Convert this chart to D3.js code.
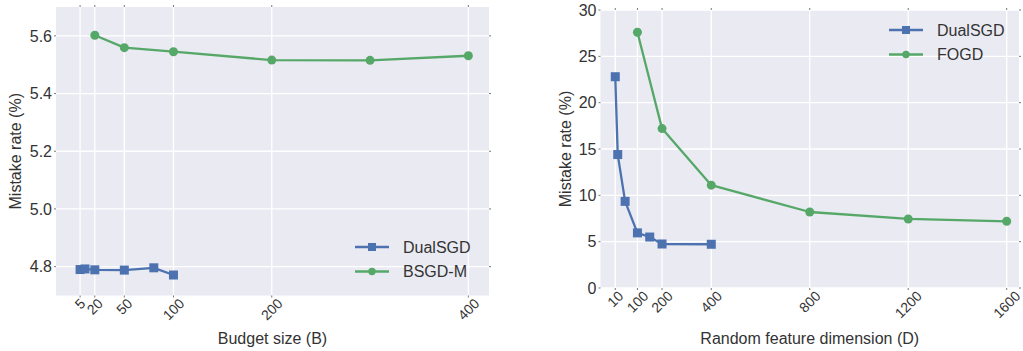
<!DOCTYPE html>
<html><head><meta charset="utf-8">
<script src="https://cdn.jsdelivr.net/npm/d3@7"></script>
<style>body{margin:0;background:#fff}svg{display:block}text{font-family:"Liberation Sans",Arial,sans-serif;fill:#333}</style>
</head><body><svg id="c" width="1023" height="351"></svg>
<script>
// Left panel data
const leftXTicks = [5, 20, 50, 100, 200, 400];
const leftYTicks = [4.8, 5.0, 5.2, 5.4, 5.6];
const leftDualX = [5, 10, 20, 50, 80, 100];
const leftDualY = [4.790, 4.792, 4.789, 4.788, 4.796, 4.771];
const leftBsgdX = [20, 50, 100, 200, 300, 400];
const leftBsgdY = [5.602, 5.559, 5.545, 5.516, 5.515, 5.531];
// Right panel data
const rightXTicks = [10, 100, 200, 400, 800, 1200, 1600];
const rightYTicks = [0, 5, 10, 15, 20, 25, 30];
const rightDualX = [10, 20, 50, 100, 150, 200, 400];
const rightDualY = [22.8, 14.4, 9.35, 5.95, 5.5, 4.75, 4.72];
const rightFogdX = [100, 200, 400, 800, 1200, 1600];
const rightFogdY = [27.6, 17.2, 11.1, 8.2, 7.45, 7.2];

const BLUE = "#4C72B0", GREEN = "#55A868", BG = "#EAEAF2";
const svg = d3.select("#c");

function panel(o) {
  const x = d3.scaleLinear().domain(o.xDomain).range([o.left, o.right]);
  const y = d3.scaleLinear().domain(o.yDomain).range([o.bottom, o.top]);
  const g = svg.append("g");
  g.append("rect").attr("x", o.left).attr("y", o.top)
    .attr("width", o.right - o.left).attr("height", o.bottom - o.top).attr("fill", BG);
  // grid
  g.selectAll(".vg").data(o.xTicks).enter().append("line")
    .attr("x1", d => x(d)).attr("x2", d => x(d)).attr("y1", o.top).attr("y2", o.bottom)
    .attr("stroke", "#fff").attr("stroke-width", 1.3);
  g.selectAll(".hg").data(o.yTicks).enter().append("line")
    .attr("y1", d => y(d)).attr("y2", d => y(d)).attr("x1", o.left).attr("x2", o.right)
    .attr("stroke", "#fff").attr("stroke-width", 1.3);
  // tiny ticks
  const tk = g.append("g").attr("stroke", "#777").attr("stroke-width", 1);
  o.xTicks.forEach(t => {
    tk.append("line").attr("x1", x(t)).attr("x2", x(t)).attr("y1", o.top - 2).attr("y2", o.top);
    tk.append("line").attr("x1", x(t)).attr("x2", x(t)).attr("y1", o.bottom).attr("y2", o.bottom + 2);
  });
  o.yTicks.forEach(t => {
    tk.append("line").attr("y1", y(t)).attr("y2", y(t)).attr("x1", o.left - 2).attr("x2", o.left);
    tk.append("line").attr("y1", y(t)).attr("y2", y(t)).attr("x1", o.right).attr("x2", o.right + 2);
  });
  // y tick labels
  g.selectAll(".yl").data(o.yTicks).enter().append("text")
    .attr("x", o.left - 4).attr("y", d => y(d)).attr("dy", "0.36em")
    .attr("text-anchor", "end").attr("font-size", 16).text(o.yFmt);
  // x tick labels rotated
  o.xTicks.forEach(t => {
    const txt = g.append("text").attr("font-size", 14).attr("text-anchor", "middle")
      .attr("dominant-baseline", "central").text(t);
    const w = txt.node().getComputedTextLength();
    const cy = o.bottom + 2 + (w + 10) * Math.SQRT1_2 / 2;
    txt.attr("transform", `translate(${x(t)},${cy}) rotate(-45)`);
  });
  // axis labels
  g.append("text").attr("x", (o.left + o.right) / 2).attr("y", 344)
    .attr("text-anchor", "middle").attr("font-size", 16).text(o.xLabel);
  g.append("text").attr("transform", `translate(${o.yLabelX},${(o.top + o.bottom) / 2}) rotate(-90)`)
    .attr("text-anchor", "middle").attr("dy", "0.36em").attr("font-size", 16).text("Mistake rate (%)");
  // series
  const line = d3.line().x(d => x(d[0])).y(d => y(d[1]));
  o.series.forEach(s => {
    const pts = s.xs.map((v, i) => [v, s.ys[i]]);
    g.append("path").datum(pts).attr("d", line).attr("fill", "none")
      .attr("stroke", s.color).attr("stroke-width", 2.3).attr("stroke-linejoin", "round");
    if (s.marker === "s") {
      g.selectAll(null).data(pts).enter().append("rect")
        .attr("x", d => x(d[0]) - 4.5).attr("y", d => y(d[1]) - 4.5)
        .attr("width", 9).attr("height", 9).attr("fill", s.color);
    } else {
      g.selectAll(null).data(pts).enter().append("circle")
        .attr("cx", d => x(d[0])).attr("cy", d => y(d[1])).attr("r", 4.5).attr("fill", s.color);
    }
  });
  // legend
  o.series.forEach((s, i) => {
    const ly = o.legY + i * 24.5;
    g.append("line").attr("x1", o.legX).attr("x2", o.legX + 34).attr("y1", ly).attr("y2", ly)
      .attr("stroke", s.color).attr("stroke-width", 2.3);
    if (s.marker === "s") {
      g.append("rect").attr("x", o.legX + 17 - 4).attr("y", ly - 4).attr("width", 8).attr("height", 8).attr("fill", s.color);
    } else {
      g.append("circle").attr("cx", o.legX + 17).attr("cy", ly).attr("r", 3.7).attr("fill", s.color);
    }
    g.append("text").attr("x", o.legX + 48).attr("y", ly).attr("dy", "0.36em")
      .attr("font-size", 16).text(s.name);
  });
}

panel({
  left: 56, right: 489, top: 7, bottom: 295.5,
  xDomain: [-19.5, 421], yDomain: [4.7, 5.7],
  xTicks: leftXTicks, yTicks: leftYTicks, yFmt: d3.format(".1f"),
  xLabel: "Budget size (B)", yLabelX: 15.5,
  legX: 355, legY: 247,
  series: [
    {name: "DualSGD", xs: leftDualX, ys: leftDualY, color: BLUE, marker: "s"},
    {name: "BSGD-M", xs: leftBsgdX, ys: leftBsgdY, color: GREEN, marker: "o"}
  ]
});
panel({
  left: 600.5, right: 1019, top: 10, bottom: 288,
  xDomain: [-50, 1650], yDomain: [0, 30],
  xTicks: rightXTicks, yTicks: rightYTicks, yFmt: d3.format("d"),
  xLabel: "Random feature dimension (D)", yLabelX: 565,
  legX: 889, legY: 30,
  series: [
    {name: "DualSGD", xs: rightDualX, ys: rightDualY, color: BLUE, marker: "s"},
    {name: "FOGD", xs: rightFogdX, ys: rightFogdY, color: GREEN, marker: "o"}
  ]
});
</script></body></html>
